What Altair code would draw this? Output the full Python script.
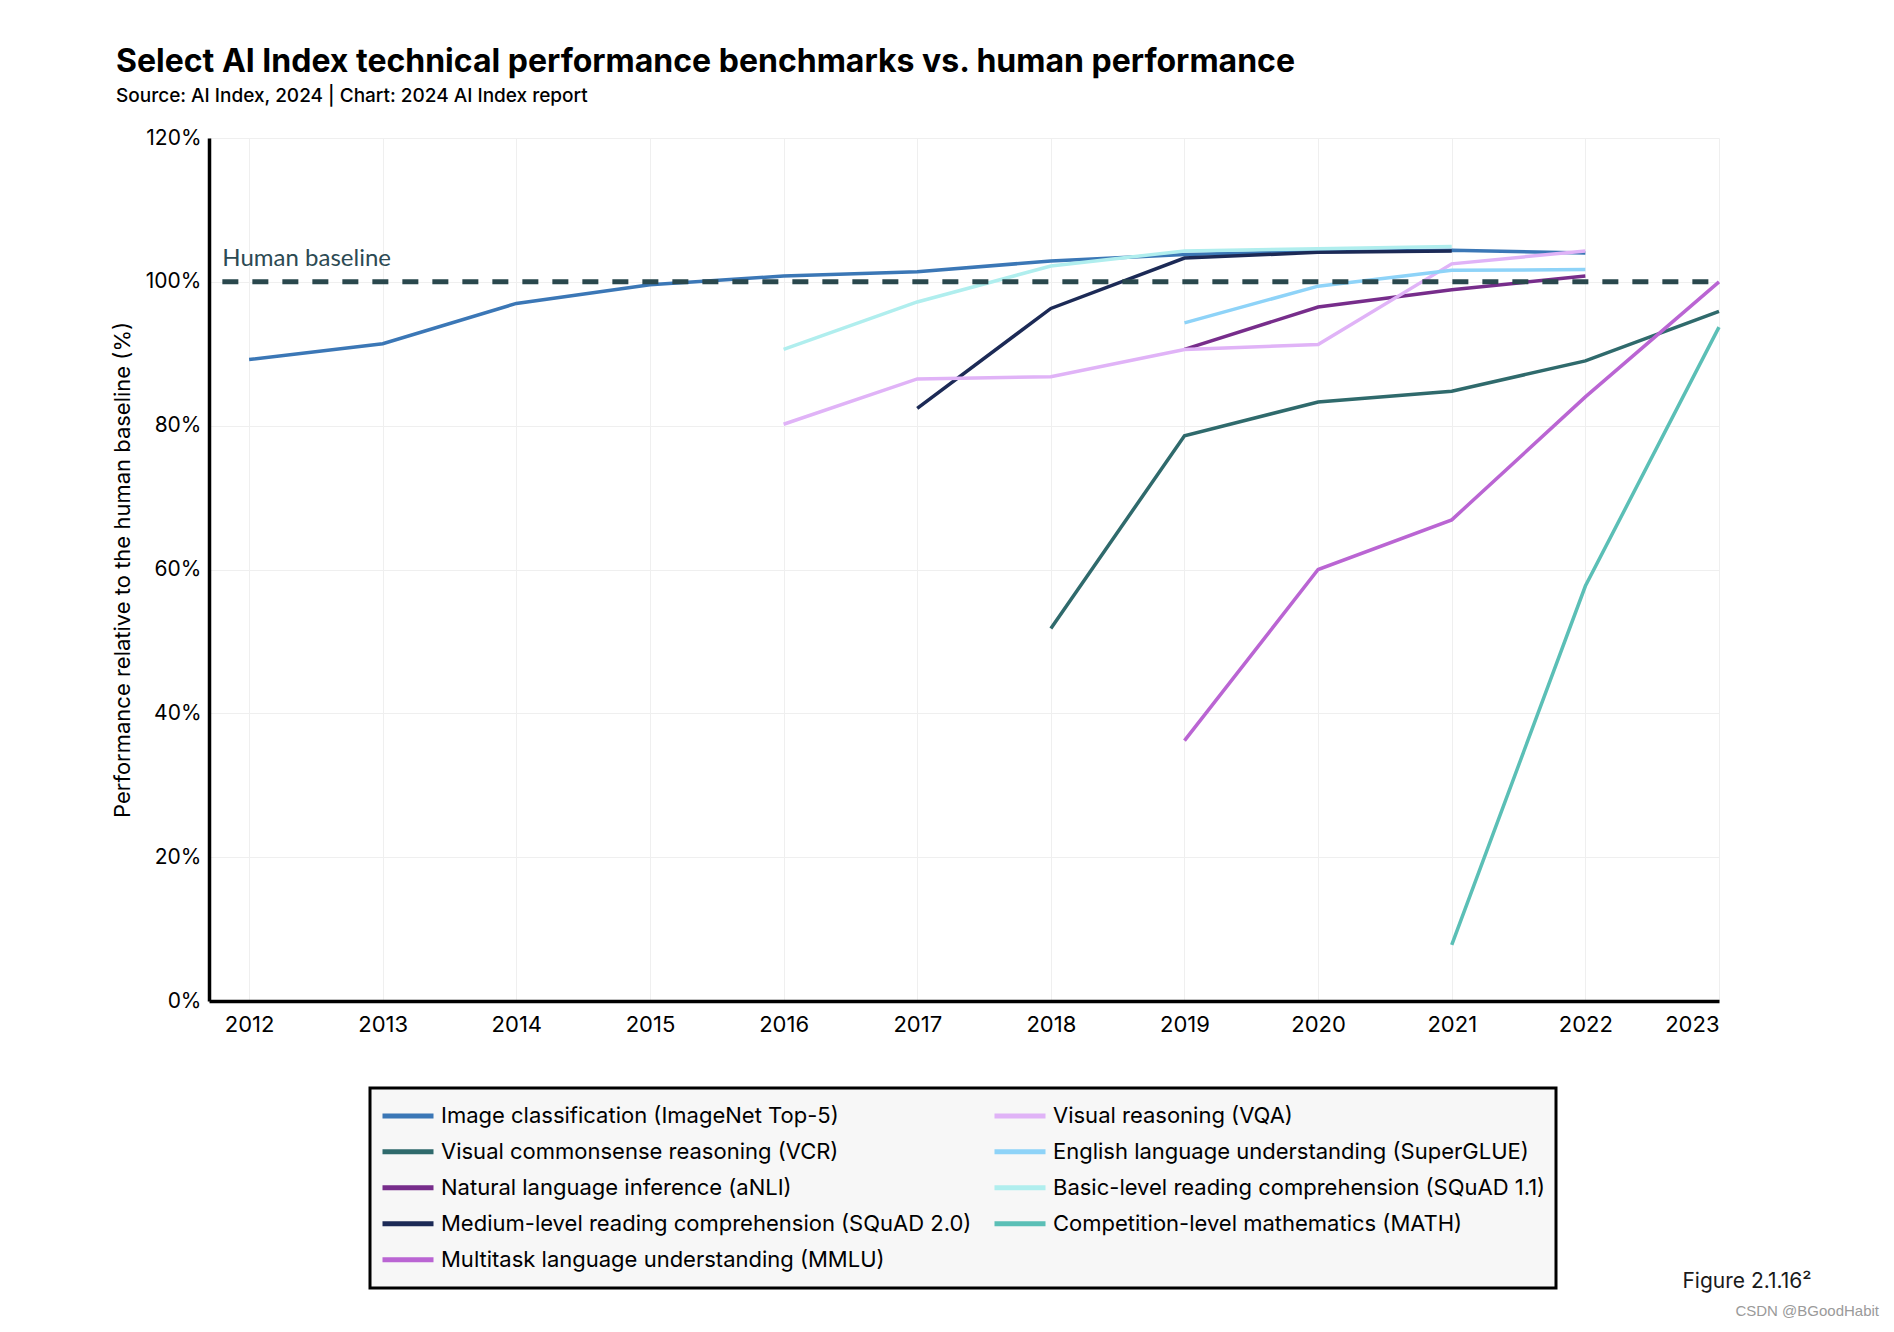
import altair as alt
import pandas as pd

# ---------------- data ----------------
years_all = list(range(2012, 2024))
y_ticks = [0, 20, 40, 60, 80, 100, 120]

imagenet_years = list(range(2012, 2023))
imagenet_vals = [89.2, 91.4, 97.0, 99.6, 100.8, 101.4, 102.9, 103.8, 104.2, 104.4, 104.0]

vcr_years = list(range(2018, 2024))
vcr_vals = [51.8, 78.6, 83.3, 84.8, 89.0, 95.9]

anli_years = list(range(2019, 2023))
anli_vals = [90.6, 96.5, 98.9, 100.8]

squad20_years = list(range(2017, 2022))
squad20_vals = [82.4, 96.3, 103.3, 104.1, 104.3]

mmlu_years = list(range(2019, 2024))
mmlu_vals = [36.2, 60.0, 66.9, 84.0, 100.0]

vqa_years = list(range(2016, 2023))
vqa_vals = [80.2, 86.5, 86.8, 90.6, 91.3, 102.5, 104.3]

superglue_years = list(range(2019, 2023))
superglue_vals = [94.3, 99.4, 101.6, 101.7]

squad11_years = list(range(2016, 2022))
squad11_vals = [90.6, 97.2, 102.2, 104.3, 104.6, 104.9]

math_years = list(range(2021, 2024))
math_vals = [7.8, 57.7, 93.7]

# legend order (column-major, two columns)
series_names = [
    "Image classification (ImageNet Top-5)",
    "Visual commonsense reasoning (VCR)",
    "Natural language inference (aNLI)",
    "Medium-level reading comprehension (SQuAD 2.0)",
    "Multitask language understanding (MMLU)",
    "Visual reasoning (VQA)",
    "English language understanding (SuperGLUE)",
    "Basic-level reading comprehension (SQuAD 1.1)",
    "Competition-level mathematics (MATH)",
]
series_colors = [
    "#3b77b6",
    "#2f6a6c",
    "#772d8b",
    "#1c2a56",
    "#ba65d3",
    "#e0b3f7",
    "#8ed3f8",
    "#b0eeee",
    "#5bbfb6",
]
series_data = [
    (imagenet_years, imagenet_vals),
    (vcr_years, vcr_vals),
    (anli_years, anli_vals),
    (squad20_years, squad20_vals),
    (mmlu_years, mmlu_vals),
    (vqa_years, vqa_vals),
    (superglue_years, superglue_vals),
    (squad11_years, squad11_vals),
    (math_years, math_vals),
]

baseline_value = 100
baseline_start = 2011.8
baseline_end = 2023
baseline_label = "Human baseline"

title_text = "Select AI Index technical performance benchmarks vs. human performance"
subtitle_text = "Source: AI Index, 2024 | Chart: 2024 AI Index report"
y_title = "Performance relative to the human baseline (%)"
figure_text = "Figure 2.1.16²"
watermark_text = "CSDN @BGoodHabit"

rows = []
for name, (yrs, vals) in zip(series_names, series_data):
    for yr, v in zip(yrs, vals):
        rows.append({"series": name, "year": yr, "value": v})
df = pd.DataFrame(rows)

FONT = "Inter"
x_scale = alt.Scale(domain=[2011.7, 2023], nice=False, zero=False)
y_scale = alt.Scale(domain=[0, 120], nice=False)

lines = alt.Chart(df).mark_line(strokeWidth=3.5).encode(
    x=alt.X("year:Q", scale=x_scale,
            axis=alt.Axis(values=years_all, format="d", title=None, grid=True,
                          ticks=False, labelPadding=13, labelFontSize=22)),
    y=alt.Y("value:Q", scale=y_scale,
            axis=alt.Axis(values=y_ticks, labelExpr="datum.value + '%'", title=y_title,
                          grid=True, ticks=False, labelPadding=8, labelFontSize=21,
                          titleFontSize=22, titlePadding=11, titleFontWeight="normal")),
    color=alt.Color("series:N",
                    scale=alt.Scale(domain=series_names, range=series_colors),
                    legend=alt.Legend(title=None, orient="none", legendX=161, legendY=950,
                                      columns=2, symbolType="stroke", symbolSize=2601,
                                      symbolStrokeWidth=5, labelFont=FONT, labelFontSize=22,
                                      labelColor="black", labelLimit=0, labelOffset=5,
                                      padding=10, rowPadding=0, columnPadding=20,
                                      clipHeight=35.5,
                                      fillColor="#f7f7f7", strokeColor="black")),
)

base_df = pd.DataFrame({"year": [baseline_start], "year2": [baseline_end],
                        "value": [baseline_value], "label": [baseline_label]})

rule = alt.Chart(base_df).mark_rule(color="#2a484d", strokeWidth=5, strokeDash=[16, 14]).encode(
    x=alt.X("year:Q", scale=x_scale),
    x2="year2:Q",
    y=alt.Y("value:Q", scale=y_scale),
)

label = alt.Chart(base_df).mark_text(align="left", baseline="alphabetic", dy=-16,
                                     font="Lato", fontSize=24, color="#2c4a53").encode(
    x=alt.X("year:Q", scale=x_scale),
    y=alt.Y("value:Q", scale=y_scale),
    text="label:N",
)

fig_df = pd.DataFrame({"t": [figure_text]})
fig_text = alt.Chart(fig_df).mark_text(align="center", baseline="alphabetic", font=FONT,
                                       fontSize=21, color="#1a1a1a").encode(
    x=alt.value(1538), y=alt.value(1150), text="t:N")

wm_df = pd.DataFrame({"t": [watermark_text]})
wm_text = alt.Chart(wm_df).mark_text(align="right", baseline="alphabetic", font="Liberation Sans",
                                     fontSize=15, color="#9a9a9a").encode(
    x=alt.value(1670), y=alt.value(1178), text="t:N")

chart = alt.layer(lines, rule, label, fig_text, wm_text).properties(
    width=1510, height=863,
    autosize=alt.AutoSizeParams(type="none"),
    padding={"left": 201, "top": 130, "right": 167, "bottom": 320},
    title=alt.TitleParams(text=title_text, subtitle=subtitle_text, anchor="start", frame="group",
                          dx=-93, offset=20, font=FONT, fontSize=32, fontWeight="bold",
                          color="black", subtitleFont=FONT, subtitleFontSize=19,
                          subtitleFontWeight=500, subtitleColor="black", subtitlePadding=8),
).configure_view(stroke=None).configure_axis(
    labelFont=FONT, labelColor="black", titleFont=FONT, titleColor="black",
    domainColor="black", domainWidth=3.5, gridColor="#efefef", gridWidth=1,
).configure_legend(strokeWidth=3)

chart.save("out.html", embed_options={"renderer": "svg", "actions": False})
